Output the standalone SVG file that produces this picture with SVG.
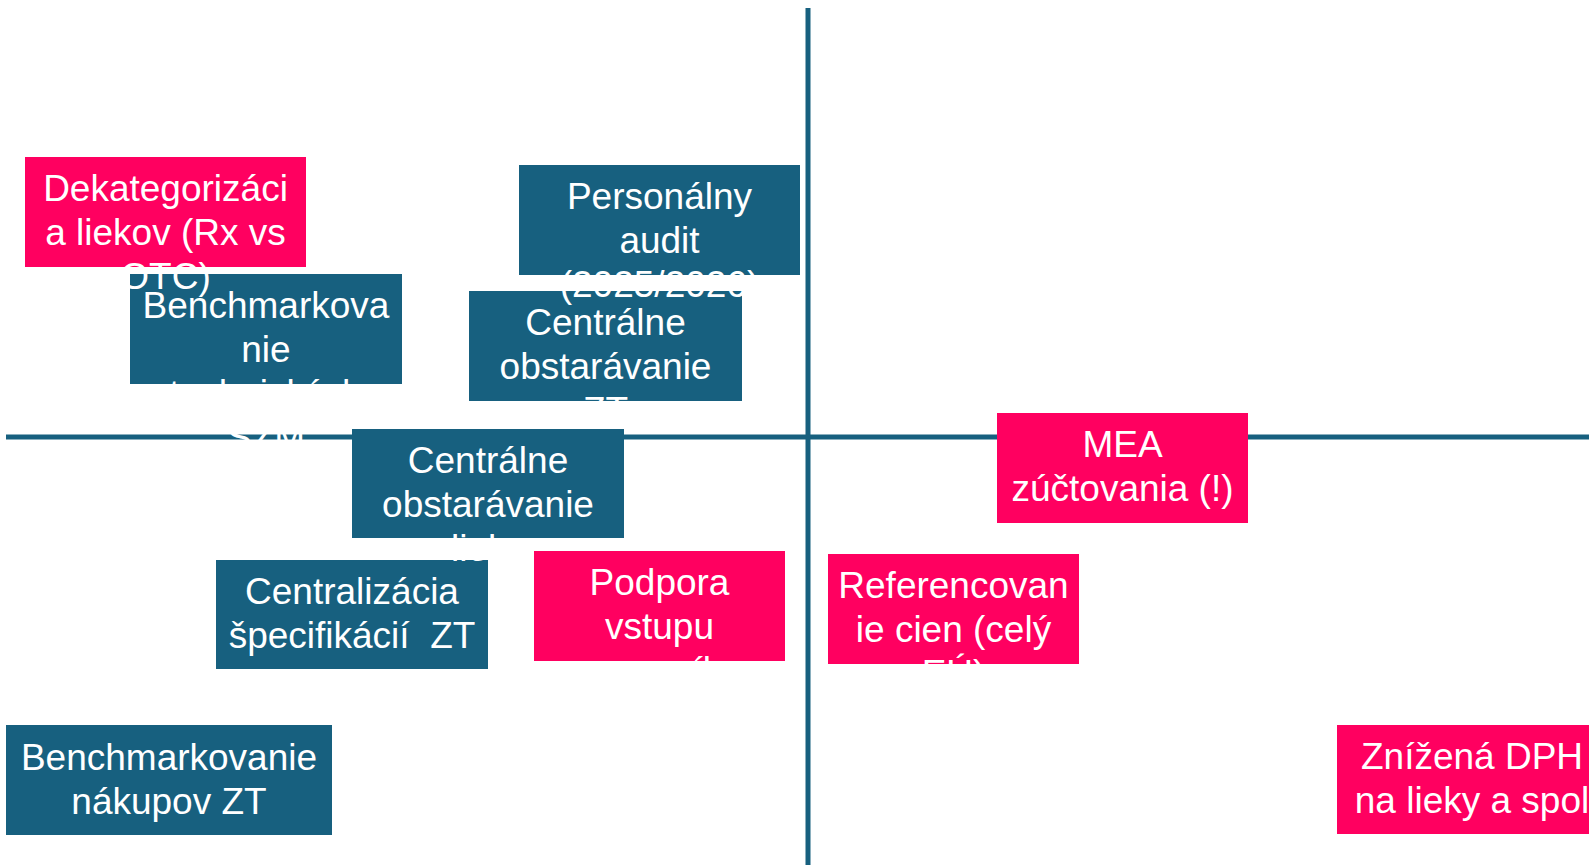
<svg xmlns="http://www.w3.org/2000/svg" width="1589" height="865" viewBox="0 0 1589 865">
<style>
.blue{fill:#17607F}
.pink{fill:#FF0060}
.t{font-family:"Liberation Sans",Arial,sans-serif;font-size:37px;fill:#FFFFFF;text-anchor:middle}
.axis{stroke:#17607F;stroke-width:5;fill:none}
</style>
<rect x="0" y="0" width="1589" height="865" fill="#FFFFFF"/>
<g id="connectors">
<line class="axis" x1="808" y1="8" x2="808" y2="865"/>
<line class="axis" x1="6" y1="437" x2="1589" y2="437"/>
</g>
<g id="benchmark-szm">
<rect class="blue" x="130" y="274" width="272" height="110"/>
<text class="t" x="266" y="318"><tspan x="266">Benchmarkova</tspan><tspan x="266" dy="44">nie</tspan><tspan x="266" dy="44">technických</tspan><tspan x="266" dy="44">SZM</tspan></text>
</g>
<g id="dekategorizacia">
<rect class="pink" x="25" y="157" width="281" height="110"/>
<text class="t" x="165.5" y="201"><tspan x="165.5">Dekategorizáci</tspan><tspan x="165.5" dy="44">a liekov (Rx vs</tspan><tspan x="165.5" dy="44">OTC)</tspan></text>
</g>
<g id="centralne-zt">
<rect class="blue" x="469" y="291" width="273" height="110"/>
<text class="t" x="605.5" y="335"><tspan x="605.5">Centrálne</tspan><tspan x="605.5" dy="44">obstarávanie</tspan><tspan x="605.5" dy="44">ZT</tspan></text>
</g>
<g id="personalny-audit">
<rect class="blue" x="519" y="165" width="281" height="110"/>
<text class="t" x="659.5" y="209"><tspan x="659.5">Personálny</tspan><tspan x="659.5" dy="44">audit</tspan><tspan x="659.5" dy="44">(2025/2026)</tspan></text>
</g>
<g id="centralizacia">
<rect class="blue" x="216" y="560" width="272" height="109"/>
<text class="t" x="352" y="604" xml:space="preserve"><tspan x="352">Centralizácia</tspan><tspan x="352" dy="44">špecifikácií  ZT</tspan></text>
</g>
<g id="centralne-lieky">
<rect class="blue" x="352" y="429" width="272" height="109"/>
<text class="t" x="488" y="473"><tspan x="488">Centrálne</tspan><tspan x="488" dy="44">obstarávanie</tspan><tspan x="488" dy="44">lieky</tspan></text>
</g>
<g id="podpora">
<rect class="pink" x="534" y="551" width="251" height="110"/>
<text class="t" x="659.5" y="595"><tspan x="659.5">Podpora</tspan><tspan x="659.5" dy="44">vstupu</tspan><tspan x="659.5" dy="44">generík</tspan></text>
</g>
<g id="referencovanie">
<rect class="pink" x="828" y="554" width="251" height="110"/>
<text class="t" x="953.5" y="598"><tspan x="953.5">Referencovan</tspan><tspan x="953.5" dy="44">ie cien (celý</tspan><tspan x="953.5" dy="44">EÚ)</tspan></text>
</g>
<g id="mea">
<rect class="pink" x="997" y="413" width="251" height="110"/>
<text class="t" x="1122.5" y="457"><tspan x="1122.5">MEA</tspan><tspan x="1122.5" dy="44">zúčtovania (!)</tspan></text>
</g>
<g id="benchmark-nakupov">
<rect class="blue" x="6" y="725" width="326" height="110"/>
<text class="t" x="169" y="770"><tspan x="169">Benchmarkovanie</tspan><tspan x="169" dy="44">nákupov ZT</tspan></text>
</g>
<g id="znizena-dph">
<rect class="pink" x="1337" y="725" width="270" height="109"/>
<text class="t" x="1472" y="769"><tspan x="1472">Znížená DPH</tspan><tspan x="1472" dy="44">na lieky a spol</tspan></text>
</g>
</svg>
